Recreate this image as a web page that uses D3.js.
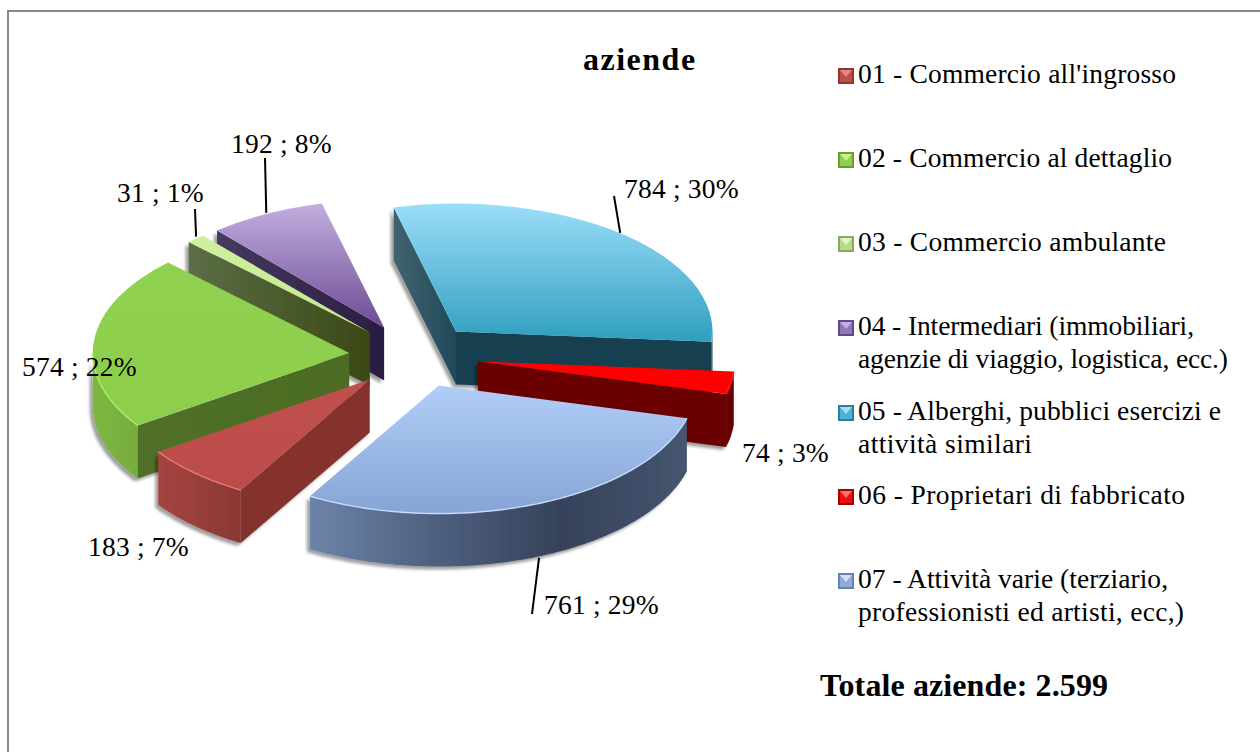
<!DOCTYPE html>
<html><head><meta charset="utf-8">
<script src="https://cdn.jsdelivr.net/npm/d3@7/dist/d3.min.js"></script>
<style>html,body{margin:0;padding:0;background:#fff;overflow:hidden}svg{display:block}text{font-family:"Liberation Serif",serif;fill:#000}</style>
</head><body><svg id="c" width="1260" height="752"></svg>
<script>
// ---- data
const categories=["01 - Commercio all'ingrosso","02 - Commercio al dettaglio","03 - Commercio ambulante","04 - Intermediari (immobiliari, agenzie di viaggio, logistica, ecc.)","05 - Alberghi, pubblici esercizi e attività similari","06 - Proprietari di fabbricato","07 - Attività varie (terziario, professionisti ed artisti, ecc,)"];
const values=[183,574,31,192,784,74,761];
const percents=[7,22,1,8,30,3,29];
const title="aziende";
const totalLabel="Totale aziende: 2.599";
const legendLines=[["01 - Commercio all'ingrosso"],["02 - Commercio al dettaglio"],["03 - Commercio ambulante"],["04 - Intermediari (immobiliari,","agenzie di viaggio, logistica, ecc.)"],["05 - Alberghi, pubblici esercizi e","attività similari"],["06 - Proprietari di fabbricato"],["07 - Attività varie (terziario,","professionisti ed artisti, ecc,)"]];

// ---- styling / layout
const topCols=[["#bf504d","#bb4c49"],["#90d24f","#8dce4c"],["#d0f0a0","#c4e88c"],["#c2aee0","#6c4b94"],["#9cdefa","#2f9ebf"],["#ff0000","#ff0000"],["#b2cdf8","#86a4d4"]];
const rimCols=["#e47a76","#aaf060","#d8f4b0","#c8b4e4","#7fc4dc","#ff2020","#c4dcff"];
const startWall=[["#85322f","#85322f"],["#4f7026","#4c6c24"],["#5c6e46","#3a4816"],["#463a5e","#2b1d42"],["#42626f","#1f4a59"],["#6a0000","#6a0000"],["#556","#556"]];
const endWall=[["#85322f","#85322f"],["#4f7026","#4c6c24"],["#5c6e46","#3a4816"],["#463a5e","#2b1d42"],["#164150","#164150"],["#6a0000","#6a0000"],["#556","#556"]];
const outerWall=[["#a54441","#8a3835"],["#7fb742","#76ac3e"],["#5c6e46","#5c6e46"],["#463a5e","#463a5e"],["#164150","#164150"],["#6a0000","#640000"],["#6c83a8","#4f607f","#36425b","#465570"]];
const paintOrder=[4,3,2,1,0,5,6];
const leaderEnds=[null,null,[195,209,0.5,-2],[265,158,0,-1],[614,196,-1.5,-1],null,[532,614,2,1]];
const labelPos=[[88,556],[22,376],[117,202],[231,153],[624,198],[742,462],[544,614]];
const legendBaselines=[[83],[167],[251],[335,368],[420,453],[504],[588,621]];
const legendWidths=[[318],[314],[308],[336,370],[363,174],[327],[310,326]];

const startDeg=210.2;
const cx=414,cy=356,rx=256.5,ry=128,ex=65,ey=32,depth=53,k=ry/rx;
const rad=Math.PI/180;
const fs=27.5, ls=0.2;

const svg=d3.select("#c");
const defs=svg.append("defs");
const f=defs.append("filter").attr("id","sh").attr("x","-10%").attr("y","-10%").attr("width","120%").attr("height","125%");
f.append("feDropShadow").attr("dx",-3).attr("dy",3).attr("stdDeviation",1.6).attr("flood-color","#000").attr("flood-opacity",0.38);
function grad(id,cols,vertical){
  const g=defs.append("linearGradient").attr("id",id).attr("x1",0).attr("y1",0).attr("x2",vertical?0:1).attr("y2",vertical?1:0);
  cols.forEach((c,i)=>g.append("stop").attr("offset",i/(cols.length-1)).attr("stop-color",c));
  return `url(#${id})`;
}

// frame
svg.append("path").attr("d","M8,752V11H1260").attr("fill","none").attr("stroke","#888").attr("stroke-width",2);

// pie
const pie=d3.pie().sort(null).startAngle(startDeg*rad).endAngle((startDeg+360)*rad);
const arcs=pie(values);
const arcGen=d3.arc().innerRadius(0).outerRadius(rx);
const line=d3.line();
const pt=(a,t)=>[Math.sin(t)*rx+a[0],-Math.cos(t)*ry+a[1]];
const apexOf=d=>{const m=(d.startAngle+d.endAngle)/2;return [cx+Math.sin(m)*ex,cy-Math.cos(m)*ey];};
const front=[[90*rad,270*rad],[450*rad,630*rad]];
function sample(t0,t1){const n=Math.max(2,Math.ceil((t1-t0)/(1*rad)));return d3.range(n+1).map(i=>t0+(t1-t0)*i/n);}
function radial(a,t){const p=pt(a,t);return line([a,p,[p[0],p[1]+depth],[a[0],a[1]+depth]])+"Z";}

const root=svg.append("g");
paintOrder.forEach(i=>{
  const d=arcs[i],a=apexOf(d),g=root.append("g").attr("class","slice");
  const w=g.append("g").attr("filter","url(#sh)");
  front.forEach((r,j)=>{
    const t0=Math.max(r[0],d.startAngle),t1=Math.min(r[1],d.endAngle);
    if(t1>t0){
      const up=sample(t0,t1).map(t=>pt(a,t));
      const dn=up.map(p=>[p[0],p[1]+depth]).reverse();
      w.append("path").attr("d",line(up.concat(dn))+"Z").attr("fill",grad(`ow${i}${j}`,outerWall[i],false));
    }
  });
  if(Math.sin(d.startAngle)<0) w.append("path").attr("d",radial(a,d.startAngle)).attr("fill",grad(`sw${i}`,startWall[i],false));
  if(Math.sin(d.endAngle)>0) w.append("path").attr("d",radial(a,d.endAngle)).attr("fill",grad(`ew${i}`,endWall[i],false));
  g.append("path").attr("transform",`translate(${a[0]},${a[1]}) scale(1,${k})`).attr("d",arcGen(d)).attr("fill",grad(`tp${i}`,topCols[i],true));
  front.forEach(r=>{
    const t0=Math.max(r[0],d.startAngle),t1=Math.min(r[1],d.endAngle);
    if(t1>t0) g.append("path").attr("d",line(sample(t0,t1).map(t=>pt(a,t)))).attr("fill","none").attr("stroke",rimCols[i]).attr("stroke-width",1.4);
  });
});

// leader lines
leaderEnds.forEach((o,i)=>{
  if(!o) return;
  const d=arcs[i],a=apexOf(d),m=(d.startAngle+d.endAngle)/2,p=pt(a,m);
  const y0=p[1]+(Math.cos(m)<0?depth:0);
  svg.append("line").attr("x1",p[0]+o[2]).attr("y1",y0+o[3]).attr("x2",o[0]).attr("y2",o[1]).attr("stroke","#000").attr("stroke-width",2);
});
// data labels
values.forEach((v,i)=>svg.append("text").attr("x",labelPos[i][0]).attr("y",labelPos[i][1]).attr("font-size",fs).attr("letter-spacing",ls).text(`${v} ; ${percents[i]}%`));

// title
svg.append("text").attr("x",583).attr("y",70).attr("font-size",32).attr("letter-spacing",1.5).attr("font-weight","bold").text(title);

// legend
const swatch=[["#bd4e4b","#e58a86","#8f3532"],["#8fcf4e","#c8f28a","#6a9c34"],["#b6d98a","#e2f5c4","#86a860"],["#8f78b4","#c4b2de","#62498a"],["#4fb0d0","#a0e0f4","#2c7f9e"],["#e81010","#ff7070","#a80000"],["#8fabd8","#d0e2fa","#6483b4"]];
legendLines.forEach((lines,i)=>{
  const y=legendBaselines[i][0],g=svg.append("g"),x0=838,s=16,yy=y-15;
  g.append("rect").attr("x",x0).attr("y",yy).attr("width",s).attr("height",s).attr("fill",swatch[i][2]);
  g.append("rect").attr("x",x0+2).attr("y",yy+2).attr("width",s-4).attr("height",s-4).attr("fill",swatch[i][0]);
  g.append("path").attr("d",line([[x0+2,yy+2],[x0+s-2,yy+2],[x0+s/2,yy+s/2+1]])+"Z").attr("fill",swatch[i][1]);
  lines.forEach((t,j)=>svg.append("text").attr("x",858).attr("y",legendBaselines[i][j]).attr("font-size",fs).attr("textLength",legendWidths[i][j]).attr("lengthAdjust","spacing").text(t));
});
svg.append("text").attr("x",820).attr("y",696).attr("font-size",32).attr("font-weight","bold").attr("textLength",288).text(totalLabel);
</script></body></html>
